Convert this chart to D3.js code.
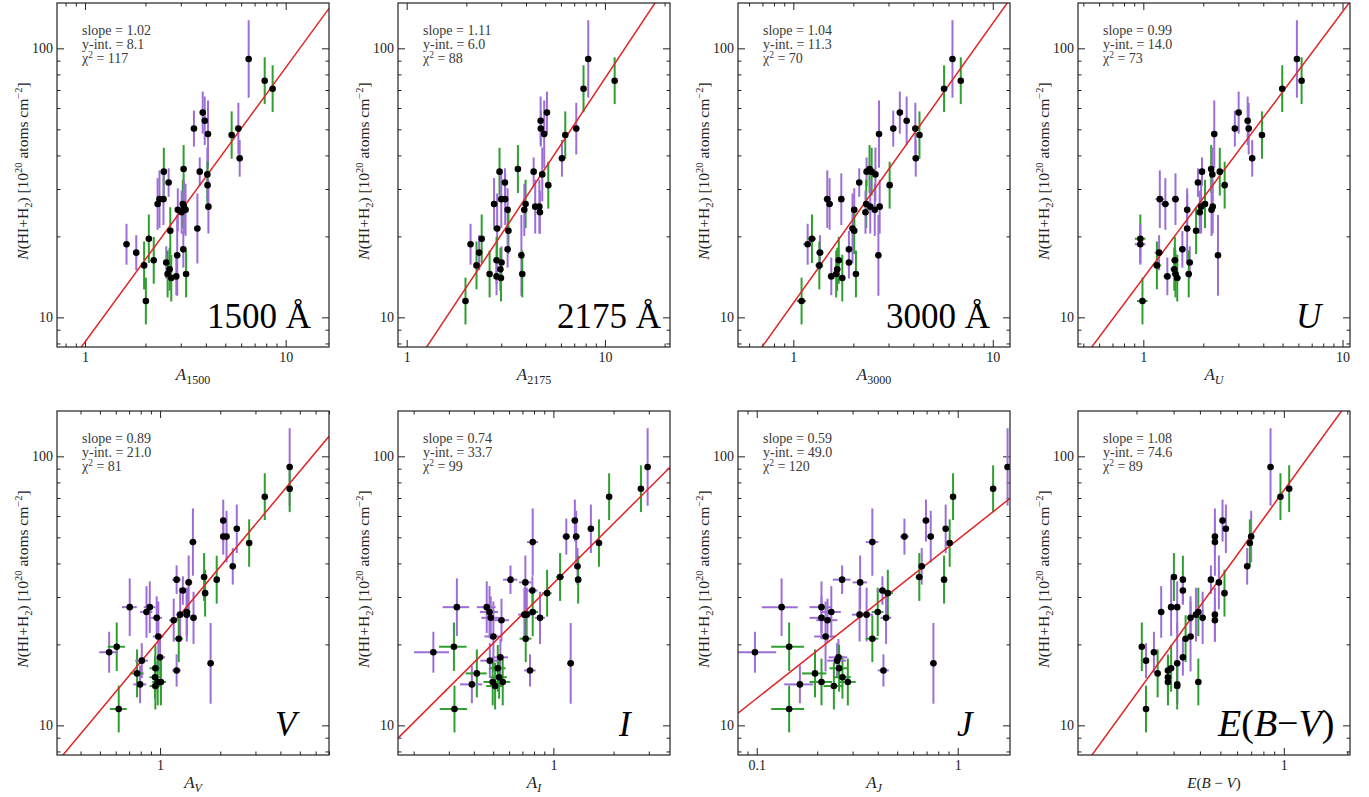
<!DOCTYPE html>
<html><head><meta charset="utf-8">
<script src="https://cdn.jsdelivr.net/npm/d3@7"></script>
<style>
body{margin:0;background:#fff;}
svg{display:block;}
text{font-family:"Liberation Serif","Times New Roman","DejaVu Serif",serif;}
</style>
</head><body>
<svg id="c" width="1369" height="797"></svg>
<script>
// ---- data (N(HI+H2) in 1e20 cm^-2, shared by all panels) ----
const nHI = [91.3,75.8,70.8,57.7,53.8,50.3,50.3,48.0,47.6,39.0,35.6,34.8,34.8,34.0,31.7,31.0,27.5,27.5,26.4,26.4,25.8,25.8,25.1,25.1,24.6,21.4,21.0,19.6,18.7,17.9,17.4,17.0,16.3,16.0,15.6,15.1,14.5,14.5,14.2,14.0,11.5];
// vertical error half-length, in dex
const nErrDex = [0.144,0.087,0.087,0.078,0.09,0.067,0.096,0.125,0.088,0.068,0.089,0.053,0.089,0.1,0.053,0.087,0.107,0.096,0.096,0.09,0.1,0.1,0.08,0.097,0.08,0.13,0.087,0.09,0.076,0.068,0.065,0.15,0.087,0.06,0.089,0.08,0.087,0.087,0.07,0.087,0.087];
// sample group: "p" (purple) or "g" (green)
const group = ["p","g","g","p","p","p","p","p","g","p","g","p","g","p","p","g","p","p","p","g","p","p","p","p","p","p","g","g","p","p","p","p","g","p","g","g","g","g","p","g","g"];

const a1500 = [6.54,7.86,8.61,3.86,3.95,3.49,5.81,4.10,5.38,5.90,3.10,3.73,2.47,4.07,2.61,4.08,2.35,2.46,2.30,3.07,4.12,3.11,2.90,3.17,3.03,3.63,2.66,2.08,1.61,3.09,1.80,2.88,2.20,2.54,1.97,2.64,2.58,3.19,2.85,2.69,2.01];
const a2175 = [8.24,11.2,7.80,5.10,4.74,4.75,7.17,4.94,6.31,6.07,3.64,4.37,2.94,4.83,3.13,5.18,3.00,3.14,2.76,3.98,4.45,4.67,3.23,3.92,4.70,2.86,3.26,2.39,2.10,3.23,2.32,3.79,2.84,3.01,2.25,2.97,2.62,3.83,2.84,2.99,1.98];
const a3000 = [6.28,6.91,5.70,3.42,3.70,3.17,4.09,2.69,4.29,4.11,2.41,2.33,2.47,2.58,2.14,3.04,1.48,1.74,1.52,2.32,2.43,2.71,2.02,2.56,2.30,1.98,2.02,1.24,1.18,1.90,1.36,2.67,1.69,1.90,1.35,1.66,1.64,2.06,1.55,1.76,1.10];
const aU = [5.90,6.23,4.98,3.01,3.34,2.88,3.38,2.27,3.94,3.52,2.19,1.97,2.42,2.22,1.88,2.56,1.21,1.45,1.29,2.04,1.95,2.23,1.66,2.20,1.92,1.66,1.84,0.966,0.966,1.57,1.20,2.37,1.44,1.71,1.17,1.43,1.45,1.69,1.32,1.48,0.99];
const aV = [4.45,4.45,3.34,2.07,2.42,2.07,2.15,1.46,2.79,2.31,1.66,1.21,1.92,1.39,1.30,1.68,0.705,0.888,0.855,1.36,1.26,1.36,0.962,1.47,1.17,0.98,1.24,0.607,0.556,1.00,0.810,1.79,0.947,1.21,0.767,0.944,0.973,1.01,0.794,0.947,0.621];
const aI = [2.96,2.74,1.90,1.28,1.54,1.16,1.30,0.788,1.69,1.32,1.08,0.610,1.33,0.724,0.785,0.930,0.329,0.464,0.479,0.788,0.716,0.736,0.486,0.857,0.550,0.501,0.727,0.318,0.251,0.543,0.481,1.22,0.527,0.764,0.414,0.535,0.497,0.558,0.391,0.511,0.320];
const aJ = [1.77,1.50,0.948,0.695,0.871,0.543,0.734,0.376,0.912,0.662,0.644,0.266,0.855,0.327,0.422,0.449,0.133,0.210,0.235,0.400,0.325,0.352,0.210,0.440,0.225,0.220,0.376,0.145,0.098,0.255,0.251,0.757,0.257,0.427,0.195,0.267,0.210,0.284,0.164,0.242,0.145];
const ebv = [0.865,1.06,0.964,0.512,0.531,0.471,0.700,0.471,0.690,0.670,0.301,0.451,0.332,0.492,0.332,0.523,0.292,0.312,0.262,0.393,0.383,0.471,0.361,0.412,0.471,0.361,0.342,0.212,0.242,0.332,0.222,0.312,0.292,0.282,0.252,0.282,0.282,0.393,0.312,0.312,0.222];

const xSeries = [a1500,a2175,a3000,aU,aV,aI,aJ,ebv];
const xSigma = [0,0,0.06,0.06,0.06,0.05,0.027,0];   // horizontal error (linear units)
const slopes = [1.02,1.11,1.04,0.99,0.89,0.74,0.59,1.08];
const yints = [8.1,6.0,11.3,14.0,21.0,33.7,49.0,74.6];
const chi2 = [117,88,70,73,81,99,120,89];
const xDomains = [[0.725,16.44],[0.904,21.3],[0.528,12.2],[0.470,10.9],[0.305,7.0],[0.167,3.83],[0.0807,1.82],[0.1056,2.06]];
const xTickValues = [[1,10],[1,10],[1,10],[1,10],[1],[1],[0.1,1],[1]];
const yDomain = [7.76,147.4];
const yTickValues = [10,100];
const bigLabels = ["1500 Å","2175 Å","3000 Å","U","V","I","J","E(B−V)"];
const xSubs = ["1500","2175","3000","U","V","I","J",null];

// ---- layout ----
const svg = d3.select("#c");
const W = 272, H = 344;
const lefts = [57,398,738,1078], tops = [3,411];
const labelX = [150,159,148,218,218,221,219,140];
const colors = {p:"#9d6fd6", g:"#2f9f2f"};

function styleAxis(sel){
  sel.select(".domain").remove();
  sel.selectAll("line").attr("stroke","#222").attr("stroke-width",1);
  sel.selectAll("text").attr("font-size",14).attr("fill","#222");
}

xSeries.forEach((xs,i)=>{
  const col=i%4, row=Math.floor(i/4);
  const g = svg.append("g").attr("transform",`translate(${lefts[col]},${tops[row]})`);
  const x = d3.scaleLog().domain(xDomains[i]).range([0,W]);
  const y = d3.scaleLog().domain(yDomain).range([H,0]);
  const isMaj = (v,arr)=>arr.some(t=>Math.abs(t-v)/t<1e-6);
  const xMin = x.ticks().filter(v=>!isMaj(v,xTickValues[i]));
  const yMin = y.ticks().filter(v=>!isMaj(v,yTickValues));

  g.append("g").attr("transform",`translate(0,${H})`)
    .call(d3.axisBottom(x).tickValues(xTickValues[i]).tickSize(-7).tickSizeOuter(0).tickPadding(5).tickFormat(d3.format("~g"))).call(styleAxis);
  g.append("g").attr("transform",`translate(0,${H})`)
    .call(d3.axisBottom(x).tickValues(xMin).tickSize(-3.5).tickSizeOuter(0).tickFormat("")).call(styleAxis);
  g.append("g")
    .call(d3.axisTop(x).tickValues(xTickValues[i]).tickSize(-7).tickSizeOuter(0).tickFormat("")).call(styleAxis);
  g.append("g")
    .call(d3.axisTop(x).tickValues(xMin).tickSize(-3.5).tickSizeOuter(0).tickFormat("")).call(styleAxis);
  g.append("g")
    .call(d3.axisLeft(y).tickValues(yTickValues).tickSize(-7).tickSizeOuter(0).tickPadding(4).tickFormat(d3.format("~g"))).call(styleAxis);
  g.append("g")
    .call(d3.axisLeft(y).tickValues(yMin).tickSize(-3.5).tickSizeOuter(0).tickFormat("")).call(styleAxis);
  g.append("g").attr("transform",`translate(${W},0)`)
    .call(d3.axisRight(y).tickValues(yTickValues).tickSize(-7).tickSizeOuter(0).tickFormat("")).call(styleAxis);
  g.append("g").attr("transform",`translate(${W},0)`)
    .call(d3.axisRight(y).tickValues(yMin).tickSize(-3.5).tickSizeOuter(0).tickFormat("")).call(styleAxis);

  const cid = "clip"+i;
  g.append("clipPath").attr("id",cid).append("rect").attr("width",W).attr("height",H);
  const pg = g.append("g").attr("clip-path",`url(#${cid})`);

  const pts = xs.map((v,k)=>({x:v, n:nHI[k], e:nErrDex[k], c:group[k]}));

  pg.selectAll("line.ey").data(pts).join("line").attr("class","ey")
    .attr("x1",d=>x(d.x)).attr("x2",d=>x(d.x))
    .attr("y1",d=>y(d.n*Math.pow(10,d.e))).attr("y2",d=>y(d.n*Math.pow(10,-d.e)))
    .attr("stroke",d=>colors[d.c]).attr("stroke-width",2);
  if (xSigma[i]>0){
    const s = xSigma[i];
    pg.selectAll("line.ex").data(pts).join("line").attr("class","ex")
      .attr("x1",d=>x(Math.max(d.x-s,1e-3))).attr("x2",d=>x(d.x+s))
      .attr("y1",d=>y(d.n)).attr("y2",d=>y(d.n))
      .attr("stroke",d=>colors[d.c]).attr("stroke-width",2);
  }
  const d0 = xDomains[i];
  const fit = [d0[0], d0[1]].map(a=>({a, n: yints[i]*Math.pow(a,slopes[i])}));
  pg.append("path").datum(fit)
    .attr("d", d3.line().x(d=>x(d.a)).y(d=>y(d.n)))
    .attr("fill","none").attr("stroke","#e02424").attr("stroke-width",1.5);
  pg.selectAll("circle").data(pts).join("circle")
    .attr("cx",d=>x(d.x)).attr("cy",d=>y(d.n)).attr("r",3.3).attr("fill","#000");

  g.append("rect").attr("width",W).attr("height",H).attr("fill","none").attr("stroke","#222").attr("stroke-width",1.2);

  const st = g.append("text").attr("font-size",14).attr("fill","#3a3a3a");
  st.append("tspan").attr("x",25).attr("y",32).text("slope = "+slopes[i].toFixed(2));
  st.append("tspan").attr("x",25).attr("y",45.5).text("y-int. = "+yints[i].toFixed(1));
  st.append("tspan").attr("x",25).attr("y",60).text("χ");
  st.append("tspan").attr("dy",-5).attr("font-size",9.5).text("2");
  st.append("tspan").attr("dy",5).text(" = "+chi2[i]);

  const bl = g.append("text").attr("x",labelX[i]).attr("y",325).attr("font-size",i===7?38:35).attr("fill","#000");
  if (i<3) bl.text(bigLabels[i]);
  else if (i<7) bl.attr("font-style","italic").text(bigLabels[i]);
  else {
    bl.append("tspan").attr("font-style","italic").text("E");
    bl.append("tspan").text("(");
    bl.append("tspan").attr("font-style","italic").text("B");
    bl.append("tspan").text("−");
    bl.append("tspan").attr("font-style","italic").text("V");
    bl.append("tspan").text(")");
  }

  const xt = g.append("text").attr("x",W/2).attr("y",H+33).attr("text-anchor","middle").attr("font-size",17).attr("fill","#222");
  if (xSubs[i]!==null){
    xt.append("tspan").attr("font-style","italic").text("A");
    const sub = xt.append("tspan").attr("dy",4).attr("font-size",12).text(xSubs[i]);
    if (i>=3) sub.attr("font-style","italic");
  } else {
    xt.attr("font-size",15);
    xt.append("tspan").attr("font-style","italic").text("E");
    xt.append("tspan").text("(");
    xt.append("tspan").attr("font-style","italic").text("B");
    xt.append("tspan").text(" − ");
    xt.append("tspan").attr("font-style","italic").text("V");
    xt.append("tspan").text(")");
  }

  const yt = g.append("text").attr("transform",`translate(-29,${H/2 - 4}) rotate(-90)`)
    .attr("text-anchor","middle").attr("font-size",15.5).attr("fill","#222");
  yt.append("tspan").attr("font-style","italic").text("N");
  yt.append("tspan").text("(HI+H");
  yt.append("tspan").attr("dy",4).attr("font-size",10.5).text("2");
  yt.append("tspan").attr("dy",-4).text(") [10");
  yt.append("tspan").attr("dy",-6).attr("font-size",10.5).text("20");
  yt.append("tspan").attr("dy",6).text(" atoms cm");
  yt.append("tspan").attr("dy",-6).attr("font-size",10.5).text("−2");
  yt.append("tspan").attr("dy",6).text("]");
});
</script>
</body></html>
